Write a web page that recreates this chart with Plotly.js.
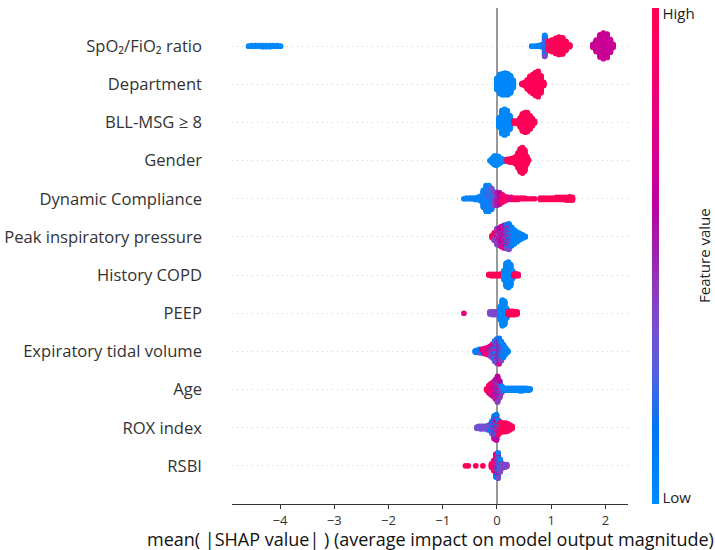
<!DOCTYPE html>
<html>
<head>
<meta charset="utf-8">
<script src="https://cdn.plot.ly/plotly-3.0.1.min.js"></script>
<style>html,body{margin:0;padding:0;background:#fff;}#chart{width:715px;height:550px;}</style>
</head>
<body>
<div id="chart"></div>
<script>
// Feature names, top to bottom
const features = ["SpO₂/FiO₂ ratio","Department","BLL-MSG ≥ 8","Gender","Dynamic Compliance",
  "Peak inspiratory pressure","History COPD","PEEP","Expiratory tidal volume","Age","ROX index","RSBI"];
const xTicks = [-4,-3,-2,-1,0,1,2];
const colorbarLabels = ['Low', 'High'];

// Each entry: [SHAP value, feature value (0 = low, 1 = high), number of samples]
const spo2 = [
 [-4.58,0.02,1],[-4.52,0.02,2],[-4.45,0.02,2],[-4.38,0.02,2],[-4.32,0.02,3],[-4.25,0.02,3],[-4.18,0.02,3],[-4.12,0.02,2],[-4.05,0.02,2],[-3.99,0.02,1],
 [0.64,0.05,1],[0.70,0.05,1],[0.76,0.05,2],[0.82,0.05,4],
 [0.88,0.05,22],[0.88,0.38,14],
 [0.95,0.97,12],[0.95,0.38,4],[1.01,0.97,20],[1.08,0.97,26],[1.14,0.97,30],[1.21,0.97,28],[1.27,0.97,16],[1.34,0.97,4],
 [1.77,0.66,6],[1.83,0.66,20],[1.90,0.66,38],[1.96,0.66,44],[2.03,0.66,40],[2.09,0.66,22],[2.14,0.66,6]
];
const department = [
 [0.00,0.02,18],[0.05,0.02,30],[0.10,0.02,33],[0.15,0.02,34],[0.20,0.02,33],[0.25,0.02,27],[0.30,0.02,12],
 [0.46,0.97,2],[0.51,0.97,6],[0.56,0.97,15],[0.61,0.97,24],[0.66,0.97,30],[0.71,0.97,36],[0.76,0.97,40],[0.81,0.97,27],[0.86,0.97,6]
];
const bllMsg = [
 [0.04,0.02,15],[0.09,0.02,36],[0.14,0.02,40],[0.19,0.02,36],[0.24,0.02,21],[0.28,0.02,6],
 [0.31,0.97,4],[0.35,0.97,4],[0.39,0.97,5],[0.43,0.97,15],[0.47,0.97,27],[0.52,0.97,31],[0.56,0.97,30],[0.61,0.97,21],[0.65,0.97,12],[0.69,0.97,4]
];
const gender = [
 [-0.13,0.02,1],[-0.09,0.02,7],[-0.05,0.02,14],[-0.01,0.02,15],[0.03,0.02,12],[0.07,0.02,7],[0.11,0.02,4],[0.15,0.02,2],
 [0.19,0.97,4],[0.23,0.97,5],[0.27,0.97,6],[0.31,0.97,8],[0.35,0.97,12],[0.39,0.97,24],[0.43,0.97,36],[0.47,0.97,40],[0.51,0.97,33],[0.55,0.97,12],[0.58,0.97,2]
];
const dynCompliance = [
 [-0.61,0.05,1],[-0.56,0.05,2],[-0.50,0.05,2],[-0.45,0.05,2],[-0.40,0.05,3],[-0.35,0.05,4],[-0.30,0.05,8],
 [-0.25,0.05,22],[-0.25,0.3,5],[-0.20,0.05,32],[-0.20,0.3,8],[-0.15,0.05,30],[-0.15,0.35,10],[-0.10,0.05,22],[-0.10,0.35,11],
 [-0.05,0.38,16],[-0.05,0.05,5],[0.00,0.5,16],[0.00,0.38,5],
 [0.05,0.65,14],[0.05,0.95,4],[0.10,0.8,8],[0.10,0.95,4],[0.15,0.85,7],
 [0.20,0.9,4],[0.26,0.75,4],[0.32,0.9,3],[0.38,0.95,3],[0.44,0.9,2],[0.50,0.95,2],[0.56,0.95,1],[0.63,0.95,1],[0.69,0.95,1],
 [0.80,0.97,3],[0.86,0.97,3],[0.92,0.97,3],[0.98,0.97,3],[1.04,0.97,3],[1.10,0.97,4],[1.16,0.97,4],[1.22,0.97,4],[1.28,0.97,5],[1.34,0.97,6],[1.39,0.97,5]
];
const peakPressure = [
 [-0.09,0.95,4],
 [-0.05,0.92,8],[-0.05,0.4,4],
 [0.00,0.38,14],[0.00,0.95,4],[0.00,0.7,6],
 [0.04,0.4,12],[0.04,0.55,12],[0.04,0.95,2],
 [0.08,0.6,14],[0.08,0.72,10],[0.08,0.38,6],
 [0.13,0.75,14],[0.13,0.55,14],[0.13,0.38,6],
 [0.18,0.7,12],[0.18,0.4,12],[0.18,0.12,12],
 [0.22,0.1,16],[0.22,0.38,12],[0.22,0.7,10],
 [0.27,0.08,20],[0.27,0.38,8],
 [0.32,0.05,21],[0.37,0.05,15],[0.42,0.05,10],[0.47,0.05,6],[0.52,0.05,2]
];
const historyCopd = [
 [-0.15,0.97,2],[-0.10,0.97,3],[-0.05,0.97,3],[0.00,0.97,3],[0.05,0.97,3],[0.09,0.97,4],
 [0.13,0.02,15],[0.17,0.02,36],[0.21,0.02,40],[0.25,0.02,33],[0.29,0.02,12],
 [0.31,0.97,3],[0.35,0.97,4],[0.39,0.97,3]
];
const peep = [
 [-0.61,0.8,1],
 [-0.13,0.38,4],[-0.09,0.38,5],[-0.05,0.38,5],[-0.01,0.38,5],[0.03,0.38,4],
 [0.06,0.02,21],[0.10,0.02,40],[0.14,0.02,36],[0.18,0.02,15],
 [0.21,0.97,5],[0.25,0.97,6],[0.29,0.97,6],[0.33,0.97,5],[0.37,0.97,4]
];
const expTidalVolume = [
 [-0.40,0.08,3],[-0.36,0.08,4],[-0.32,0.08,4],[-0.32,0.38,2],[-0.28,0.75,4],[-0.28,0.08,2],[-0.24,0.78,6],[-0.24,0.08,2],[-0.20,0.8,8],[-0.20,0.38,2],
 [-0.16,0.78,8],[-0.16,0.92,4],[-0.12,0.75,8],[-0.12,0.08,4],[-0.12,0.38,4],
 [-0.08,0.38,8],[-0.08,0.72,8],[-0.08,0.08,6],
 [-0.04,0.08,14],[-0.04,0.4,10],[-0.04,0.72,8],
 [0.00,0.08,16],[0.00,0.4,12],[0.00,0.7,10],
 [0.04,0.1,16],[0.04,0.55,12],[0.04,0.72,12],
 [0.08,0.08,14],[0.08,0.38,10],[0.08,0.7,6],
 [0.12,0.05,14],[0.12,0.38,6],[0.16,0.05,10],[0.20,0.05,3]
];
const age = [
 [-0.19,0.95,3],[-0.15,0.95,8],[-0.15,0.8,4],[-0.11,0.95,10],[-0.11,0.8,8],[-0.07,0.95,6],[-0.07,0.8,10],[-0.07,0.6,6],
 [-0.03,0.78,12],[-0.03,0.6,12],[-0.03,0.42,6],
 [0.01,0.6,14],[0.01,0.42,12],[0.01,0.78,10],[0.01,0.08,4],
 [0.05,0.42,10],[0.05,0.6,10],[0.05,0.08,6],
 [0.09,0.05,6],[0.09,0.4,4],
 [0.13,0.03,4],[0.17,0.03,4],[0.21,0.03,4],[0.26,0.03,4],[0.30,0.03,4],[0.34,0.03,4],[0.38,0.03,4],[0.42,0.03,5],[0.46,0.03,5],[0.50,0.03,4],[0.54,0.03,4],[0.58,0.03,3],[0.61,0.03,2]
];
const roxIndex = [
 [-0.37,0.35,3],[-0.33,0.35,4],[-0.29,0.35,4],[-0.29,0.08,1],[-0.25,0.35,4],[-0.21,0.35,5],[-0.17,0.35,5],[-0.17,0.08,2],
 [-0.13,0.35,6],[-0.13,0.08,4],[-0.09,0.35,8],[-0.09,0.08,8],[-0.09,0.6,4],
 [-0.05,0.08,14],[-0.05,0.6,12],[-0.05,0.38,10],
 [-0.01,0.08,14],[-0.01,0.6,10],[-0.01,0.38,8],[-0.01,0.78,8],
 [0.03,0.95,8],[0.03,0.78,6],[0.03,0.08,8],
 [0.07,0.95,12],[0.07,0.08,4],[0.12,0.95,14],[0.16,0.95,14],[0.20,0.95,12],[0.24,0.95,8],[0.28,0.95,4]
];
const rsbi = [
 [-0.58,0.97,1],[-0.53,0.97,1],[-0.39,0.97,1],[-0.26,0.97,1],
 [-0.10,0.95,4],[-0.10,0.78,2],[-0.06,0.95,8],[-0.06,0.78,8],
 [-0.02,0.78,12],[-0.02,0.95,8],[-0.02,0.08,10],[-0.02,0.6,6],
 [0.02,0.08,14],[0.02,0.38,12],[0.02,0.6,10],[0.02,0.78,4],
 [0.06,0.08,12],[0.06,0.38,8],[0.10,0.38,5],[0.10,0.08,2],[0.14,0.4,5],[0.18,0.4,4]
];
const featureData = [spo2, department, bllMsg, gender, dynCompliance, peakPressure,
  historyCopd, peep, expTidalVolume, age, roxIndex, rsbi];

// SHAP red_blue colormap (LCH interpolation)
function lch2rgb(L, C, h) {
  const a = C * Math.cos(h), b = C * Math.sin(h);
  const fy = (L + 16) / 116, fx = fy + a / 500, fz = fy - b / 200;
  const finv = t => t > 0.2068966 ? t * t * t : (t - 16 / 116) / 7.787;
  const X = 0.95047 * finv(fx), Y = finv(fy), Z = 1.08883 * finv(fz);
  let r = 3.24048134 * X - 1.53715152 * Y - 0.49853633 * Z;
  let g = -0.96925495 * X + 1.87599 * Y + 0.04155593 * Z;
  let bl = 0.05564664 * X - 0.20404134 * Y + 1.05731107 * Z;
  const gam = c => { c = c > 0.0031308 ? 1.055 * Math.pow(c, 1 / 2.4) - 0.055 : 12.92 * c; return Math.round(255 * Math.min(1, Math.max(0, c))); };
  return `rgb(${gam(r)},${gam(g)},${gam(bl)})`;
}
const colorscale = [];
for (let k = 0; k <= 20; k++) {
  const p = k / 20;
  const L = p < 0.5 ? 54 - 14 * (p / 0.5) : 40 + 14 * ((p - 0.5) / 0.5);
  const C = 70 + 20 * p;
  const h = 4.6588 + (0.35470565 + 2 * Math.PI - 4.6588) * p;
  colorscale.push([p, lch2rgb(L, C, h)]);
}

// beeswarm layout (as in shap: stack samples sharing a SHAP value)
function swarm(data) {
  const groups = new Map();
  data.forEach(([x, c, n]) => { const k = x.toFixed(4); if (!groups.has(k)) groups.set(k, []); groups.get(k).push({x, c, n}); });
  const pts = []; let maxHalf = 0;
  groups.forEach(list => {
    const rem = list.map(t => t.n); const tot = rem.reduce((s, v) => s + v, 0);
    for (let layer = 0; layer < tot; layer++) {
      let best = -1, bv = -1;
      list.forEach((t, i) => { if (rem[i] > 0 && rem[i] / t.n > bv) { bv = rem[i] / t.n; best = i; } });
      rem[best]--;
      const off = Math.ceil(layer / 2) * ((layer % 2) * 2 - 1);
      maxHalf = Math.max(maxHalf, Math.abs(off));
      pts.push({x: list[best].x, c: list[best].c, o: off});
    }
  });
  const s = 0.36 / (maxHalf + 1);
  return pts.map(p => ({x: p.x, y: p.o * s, c: p.c}));
}

const traces = featureData.map((d, i) => {
  const row = features.length - 1 - i;
  const pts = swarm(d);
  return {
    type: 'scatter', mode: 'markers', hoverinfo: 'skip', showlegend: false,
    x: pts.map(p => p.x), y: pts.map(p => row + p.y),
    marker: {
      size: 5.7, color: pts.map(p => p.c), colorscale: colorscale, cmin: 0, cmax: 1,
      line: {width: 0}, opacity: 1,
      showscale: i === 0,
      colorbar: {
        thickness: 7, thicknessmode: 'pixels', len: 1, lenmode: 'fraction',
        xref: 'container', x: 652 / 715, xanchor: 'left', xpad: 0,
        yref: 'paper', y: 0.5, yanchor: 'middle', ypad: 0,
        outlinewidth: 0, ticks: '', tickvals: [0.012, 0.988], ticktext: colorbarLabels,
        tickfont: {size: 15, color: '#222'}
      }
    }
  };
});

const layout = {
  width: 715, height: 550,
  margin: {l: 232, r: 87, t: 8, b: 46},
  paper_bgcolor: '#fff', plot_bgcolor: '#fff',
  font: {family: 'Open Sans, DejaVu Sans, sans-serif', color: '#333'},
  xaxis: {
    range: [-4.885, 2.415], tickvals: xTicks, ticks: 'outside', ticklen: 4, tickcolor: '#333',
    showline: true, linecolor: '#333', linewidth: 1, showgrid: false,
    zeroline: true, zerolinecolor: '#999', zerolinewidth: 1.5,
    tickfont: {size: 13, color: '#333'}, fixedrange: true
  },
  yaxis: {
    range: [-1, 12], tickvals: features.map((f, i) => features.length - 1 - i), ticktext: features,
    ticks: '', showline: false, zeroline: false,
    showgrid: true, gridcolor: '#d0d0d0', gridwidth: 1, griddash: '1px,4px',
    ticklabelstandoff: 29, tickfont: {size: 16.6, color: '#333'}, fixedrange: true
  },
  annotations: [{
    text: 'mean( |SHAP value| ) (average impact on model output magnitude)',
    xref: 'paper', yref: 'paper', x: 0.5, y: (504 - 539) / 496, xanchor: 'center', yanchor: 'middle',
    showarrow: false, font: {size: 18, color: '#111'}
  }, {
    text: 'Feature value', textangle: -90,
    xref: 'paper', yref: 'paper', x: (704 - 232) / 396, y: 0.5, xanchor: 'center', yanchor: 'middle',
    showarrow: false, font: {size: 15, color: '#222'}
  }]
};

Plotly.newPlot('chart', traces, layout, {staticPlot: true, displayModeBar: false});
</script>
</body>
</html>
